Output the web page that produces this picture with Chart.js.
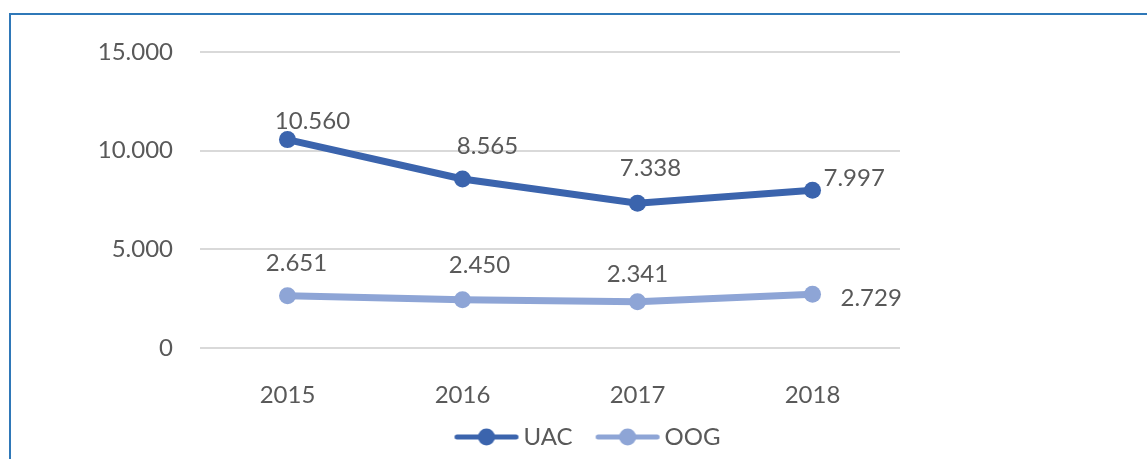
<!DOCTYPE html>
<html>
<head>
<meta charset="utf-8">
<script src="https://cdn.jsdelivr.net/npm/chart.js@4.4.0/dist/chart.umd.min.js"></script>
<style>
  html, body { margin: 0; padding: 0; background: #fff; overflow: hidden; }
  #frame {
    position: absolute; left: 9px; top: 13px; right: -10px; bottom: -10px;
    border-top: 2px solid #2f78b8; border-left: 2px solid #2f78b8;
  }
  #wrap { position: absolute; left: 0; top: 0; width: 1147px; height: 459px; overflow: hidden; }
</style>
</head>
<body>
<div id="frame"></div>
<div id="wrap"><canvas id="lineChart" width="1147" height="459"></canvas></div>
<script>
// chart data
const years = ['2015', '2016', '2017', '2018'];
const uacValues = [10560, 8565, 7338, 7997];
const oogValues = [2651, 2450, 2341, 2729];
const yTicks = [0, 5000, 10000, 15000];

const textColor = '#595959';
const fontFamily = 'Lato, "Open Sans", sans-serif';

// thousands separator with a dot, like the original
const fmt = v => String(Math.round(v)).replace(/\B(?=(\d{3})+(?!\d))/g, '.');

// where each value label sits relative to its point
const labelOffsets = {
    UAC: [[25, -18, 'center'], [25, -33, 'center'], [13, -35, 'center'], [11, -12, 'left']],
    OOG: [[9, -32, 'center'], [17, -34, 'center'], [0, -28, 'center'], [28, 4, 'left']]
};

// legend marker: line with a dot in the middle, shifted to the right of the image
// so it sits close to the text and leaves room before it
function legendMarker(color) {
    const c = document.createElement('canvas');
    c.width = 92; c.height = 20;
    const g = c.getContext('2d');
    g.strokeStyle = color;
    g.lineWidth = 5;
    g.lineCap = 'round';
    g.beginPath();
    g.moveTo(27.5, 10); g.lineTo(86.5, 10);
    g.stroke();
    g.fillStyle = color;
    g.beginPath();
    g.arc(57, 10, 8.5, 0, Math.PI * 2);
    g.fill();
    return c;
}

const valueLabels = {
    id: 'valueLabels',
    afterDatasetsDraw(chart) {
        const ctx = chart.ctx;
        ctx.save();
        ctx.font = '24px ' + fontFamily;
        ctx.fillStyle = textColor;
        ctx.textBaseline = 'middle';
        chart.data.datasets.forEach((ds, i) => {
            const meta = chart.getDatasetMeta(i);
            const offs = labelOffsets[ds.label];
            meta.data.forEach((pt, j) => {
                const [dx, dy, align] = offs[j];
                ctx.textAlign = align;
                ctx.fillText(fmt(ds.data[j]), pt.x + dx, pt.y + dy);
            });
        });
        ctx.restore();
    }
};

const uacColor = '#3b64ad';
const oogColor = '#8ea5d6';

new Chart(document.getElementById('lineChart').getContext('2d'), {
    type: 'line',
    data: {
        labels: years,
        datasets: [
            {
                label: 'UAC',
                data: uacValues,
                borderColor: uacColor,
                backgroundColor: uacColor,
                borderWidth: 7,
                pointRadius: 8.5,
                pointHoverRadius: 8.5,
                pointBorderWidth: 0,
                pointStyle: 'circle',
                tension: 0,
                fill: false
            },
            {
                label: 'OOG',
                data: oogValues,
                borderColor: oogColor,
                backgroundColor: oogColor,
                borderWidth: 7,
                pointRadius: 8.5,
                pointHoverRadius: 8.5,
                pointBorderWidth: 0,
                pointStyle: 'circle',
                tension: 0,
                fill: false
            }
        ]
    },
    options: {
        responsive: false,
        animation: false,
        layout: { padding: { top: 52, left: 13, right: 0, bottom: 0 } },
        plugins: {
            tooltip: { enabled: false },
            legend: {
                display: true,
                position: 'bottom',
                labels: {
                    usePointStyle: true,
                    pointStyleWidth: 72,
                    padding: 8,
                    color: textColor,
                    font: { family: fontFamily, size: 24 },
                    generateLabels(chart) {
                        return chart.data.datasets.map((ds, i) => ({
                            text: ds.label,
                            pointStyle: legendMarker(ds.borderColor),
                            fontColor: textColor,
                            lineWidth: 0,
                            strokeStyle: 'transparent',
                            fillStyle: ds.borderColor,
                            datasetIndex: i
                        }));
                    }
                }
            }
        },
        scales: {
            x: {
                offset: true,
                grid: { display: false },
                border: { display: false },
                ticks: {
                    color: textColor,
                    padding: 25,
                    font: { family: fontFamily, size: 24 }
                },
                afterFit(scale) { scale.height = 69; }
            },
            y: {
                min: 0,
                max: 15000,
                afterBuildTicks(scale) { scale.ticks = yTicks.map(v => ({ value: v })); },
                grid: { color: '#d9d9d9', lineWidth: 2, drawTicks: false },
                border: { display: false },
                ticks: {
                    color: textColor,
                    padding: 27,
                    font: { family: fontFamily, size: 24 },
                    callback: v => fmt(v)
                },
                afterFit(scale) { scale.width = 187; }
            },
            spacer: {
                position: 'right',
                grid: { display: false },
                border: { display: false },
                ticks: { display: false },
                afterFit(scale) { scale.width = 247; }
            }
        }
    },
    plugins: [valueLabels]
});
</script>
</body>
</html>
